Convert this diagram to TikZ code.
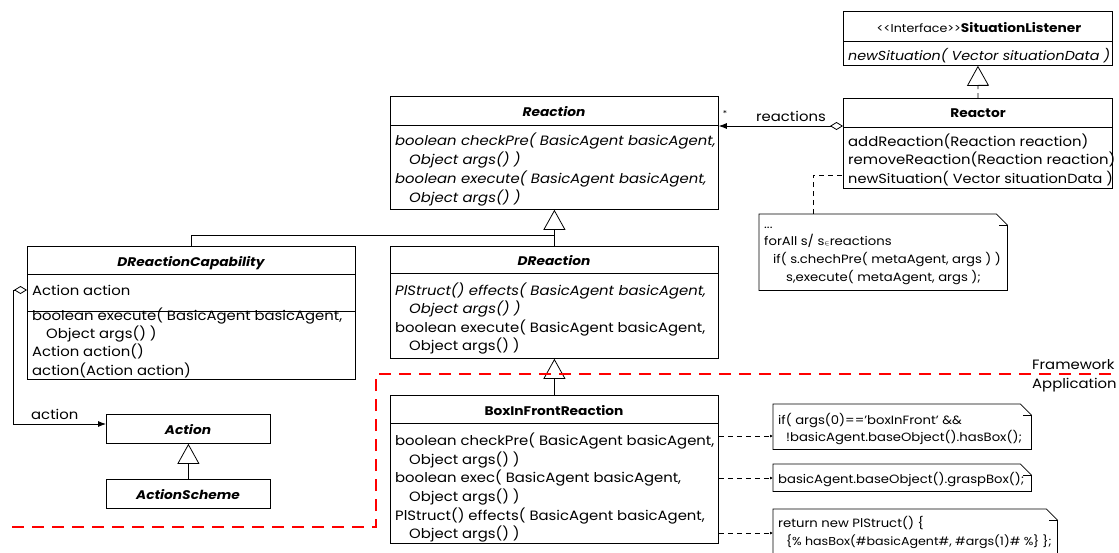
\documentclass[tikz,border=0pt]{standalone}
\usepackage{fontspec}
\setmainfont{Poppins}[FakeStretch=1.1]
\usetikzlibrary{arrows.meta}
% outline of a UML note with a folded top-right corner
\newcommand\foldnote[1]{%
  \draw[line width=0.8pt] (#1.north west) -- ([xshift=-11pt]#1.north east)
    -- ([yshift=-11pt]#1.north east) -- (#1.south east) -- (#1.south west) -- cycle;
  \draw[line width=0.8pt] ([xshift=-8pt,yshift=-11pt]#1.north east) -- ([yshift=-11pt]#1.north east);}
\begin{document}
\begin{tikzpicture}[x=1pt,y=-1pt,
  box/.style={draw, line width=0.8pt, inner sep=0pt, anchor=north west},
  area/.style={inner sep=0pt, anchor=north west},
  ln/.style={anchor=mid west, inner sep=0pt, yshift=-2.5pt, font=\fontsize{13.5}{15}\selectfont},
  iln/.style={anchor=mid west, inner sep=0pt, yshift=-2.5pt, font=\fontsize{13.5}{15}\selectfont\itshape},
  ttl/.style={anchor=mid, inner sep=0pt, yshift=-2.5pt, font=\fontsize{12.5}{15}\selectfont\bfseries},
  attl/.style={anchor=mid, inner sep=0pt, yshift=-2.5pt, font=\fontsize{12.5}{15}\selectfont\bfseries\itshape},
  nln/.style={anchor=mid west, inner sep=0pt, yshift=-2pt, font=\fontsize{12}{14}\selectfont},
  lbl/.style={inner sep=0pt, yshift=-2.5pt, font=\fontsize{13.5}{15}\selectfont},
  gen/.style={-{Triangle[open,length=20pt,width=22pt]}, line width=0.8pt},
  assoc/.style={{Diamond[open,length=13pt,width=8pt]}-{Latex[length=8pt,width=6pt]}, line width=0.8pt},
  ndash/.style={line width=0.7pt, dash pattern=on 5pt off 4pt},
  fw/.style={draw=red, line width=2.2pt, dash pattern=on 12pt off 8pt}]
\useasboundingbox (0,0) rectangle (1119,552);

% ---------- SituationListener ----------
\node[box, minimum width=269pt, minimum height=54pt] (sl) at (843,11) {};
\draw[line width=0.8pt] (sl.west |- 0,41) -- (sl.east |- 0,41);
\node[anchor=mid, inner sep=0pt, yshift=-2.5pt] (slt) at (979,27)
  {{\fontsize{11.5}{12}\selectfont <{}<Interface>{}>}{\fontsize{12.5}{15}\selectfont\bfseries SituationListener}};
\node[iln, font=\fontsize{13}{15}\selectfont\itshape] (sl1) at (848,55) {newSituation( Vector situationData )};

% ---------- Reactor ----------
\node[box, minimum width=269pt, minimum height=90pt] (reactor) at (843,98) {};
\draw[line width=0.8pt] (reactor.west |- 0,127) -- (reactor.east |- 0,127);
\node[ttl] (reactort) at (978,112) {Reactor};
\node[ln] (re1) at (848,141) {addReaction(Reaction reaction)};
\node[ln] (re2) at (848,159) {removeReaction(Reaction reaction)};
\node[ln, font=\fontsize{13.2}{15}\selectfont] (re3) at (848,178) {newSituation( Vector situationData )};

% ---------- Reaction ----------
\node[box, minimum width=328pt, minimum height=113pt] (reaction) at (390,96) {};
\draw[line width=0.8pt] (reaction.west |- 0,125) -- (reaction.east |- 0,125);
\node[attl] (reactiont) at (554,111) {Reaction};
\node[iln] (ra1) at (395,140) {boolean checkPre( BasicAgent basicAgent,};
\node[iln] (ra2) at (409,159) {Object args() )};
\node[iln] (ra3) at (395,178) {boolean execute( BasicAgent basicAgent,};
\node[iln] (ra4) at (409,197) {Object args() )};

% ---------- DReactionCapability ----------
\node[box, minimum width=328pt, minimum height=133pt] (drc) at (27,246) {};
\draw[line width=0.8pt] (drc.west |- 0,274) -- (drc.east |- 0,274);
\node[attl] (drct) at (191,261) {DReactionCapability};
\node[ln] (dc0) at (32,290) {Action action};
\node[ln] (dc1) at (32,315) {boolean execute( BasicAgent basicAgent,};
\node[ln] (dc2) at (46,333) {Object args() )};
\node[ln] (dc3) at (32,351) {Action action()};
\node[ln] (dc4) at (32,370) {action(Action action)};
\draw[line width=0.8pt] (drc.west |- 0,311) -- (drc.east |- 0,311);

% ---------- DReaction ----------
\node[box, minimum width=328pt, minimum height=112pt] (dreaction) at (390,246) {};
\draw[line width=0.8pt] (dreaction.west |- 0,273) -- (dreaction.east |- 0,273);
\node[attl] (dreactiont) at (554,260) {DReaction};
\node[iln] (dr1) at (395,290) {PlStruct() effects( BasicAgent basicAgent,};
\node[iln] (dr2) at (409,308) {Object args() )};
\node[ln] (dr3) at (395,327) {boolean execute( BasicAgent basicAgent,};
\node[ln] (dr4) at (409,345) {Object args() )};

% ---------- BoxInFrontReaction ----------
\node[box, minimum width=328pt, minimum height=148pt] (bifr) at (390,395) {};
\draw[line width=0.8pt] (bifr.west |- 0,423) -- (bifr.east |- 0,423);
\node[ttl] (bifrt) at (554,410) {BoxInFrontReaction};
\node[ln] (bf1) at (395,440) {boolean checkPre( BasicAgent basicAgent,};
\node[ln] (bf2) at (409,459) {Object args() )};
\node[ln] (bf3) at (395,477) {boolean exec( BasicAgent basicAgent,};
\node[ln] (bf4) at (409,496) {Object args() )};
\node[ln] (bf5) at (395,515) {PlStruct() effects( BasicAgent basicAgent,};
\node[ln] (bf6) at (409,533) {Object args() )};

% ---------- Action / ActionScheme ----------
\node[box, minimum width=164pt, minimum height=29pt] (action) at (106,414) {};
\node[attl] (actiont) at (188,429) {Action};
\node[box, minimum width=164pt, minimum height=29pt] (ascheme) at (106,479) {};
\node[attl] (aschemet) at (188,494) {ActionScheme};

% ---------- notes ----------
\node[area, minimum width=248pt, minimum height=76pt] (n1) at (759,214) {};
\foldnote{n1}
\node[nln] (n1a) at (764,224) {...};
\node[nln] (n1b) at (764,241) {forAll s/ s{\scriptsize$\in$}reactions};
\node[nln] (n1c) at (773,259) {if( s.chechPre( metaAgent, args ) )};
\node[nln] (n1d) at (786,277) {s,execute( metaAgent, args );};

\node[area, minimum width=258pt, minimum height=45pt] (n2) at (773,404) {};
\foldnote{n2}
\node[nln] (n2a) at (778,420) {if( args(0)=='boxInFront' \&\&};
\node[nln] (n2b) at (786,437) {!basicAgent.baseObject().hasBox();};

\node[area, minimum width=258pt, minimum height=27pt] (n3) at (773,464) {};
\foldnote{n3}
\node[nln] (n3a) at (778,479) {basicAgent.baseObject().graspBox();};

\node[area, minimum width=284pt, minimum height=50pt] (n4) at (773,509) {};
\foldnote{n4}
\node[nln] (n4a) at (778,523) {return new PlStruct() \{};
\node[nln, font=\fontsize{11.5}{14}\selectfont] (n4b) at (786,541) {\{\% hasBox(\#basicAgent\#, \#args(1)\# \%\} \};};

% ---------- connectors ----------
% generalisations
\coordinate (join) at (554,235);
\draw[gen] (dreaction.north) -- (reaction.south);
\draw[line width=0.8pt] (drc.north) |- (join);
\draw[gen] (bifr.north) -- (dreaction.south);
\draw[gen] (ascheme.north) -- (action.south);
% realisation of the listener interface
\coordinate (slbase) at (978,85);
\draw[line width=0.8pt, dash pattern=on 5pt off 4pt] (reactor.north) -- (slbase);
\draw[line width=0.8pt, -{Triangle[open,length=20pt,width=22pt]}] (slbase) -- (sl.south);
% aggregations
\draw[assoc] (reactor.west |- 0,126) -- (reaction.east |- 0,126);
\node[lbl, anchor=mid] (lreact) at (791,116) {reactions};
\node[anchor=mid, inner sep=0pt, font=\fontsize{8}{9}\selectfont] (lmany) at (725,114) {*};
\coordinate (aggbend) at (13,290);
\draw[assoc] (drc.west |- 0,290) -- (aggbend) |- (action.west |- 0,424);
\node[lbl, anchor=mid west] (laction) at (31,414) {action};
% note attachments
\coordinate (n1top) at (813,214);
\draw[ndash] (n1top) |- (reactor.west |- 0,175);
\draw[ndash, -{Latex[length=3pt,width=3pt]}] (bifr.east |- 0,436) -- (n2.west |- 0,436);
\draw[ndash, -{Latex[length=3pt,width=3pt]}] (bifr.east |- 0,478) -- (n3.west |- 0,478);
\draw[ndash, -{Latex[length=3pt,width=3pt]}] (bifr.east |- 0,533) -- (n4.west |- 0,533);

% ---------- framework / application boundary ----------
\draw[fw] (12,527) -- (376,527) -- (376,374) -- (1119,374);
\node[lbl, anchor=mid west] (lfw) at (1032,364) {Framework};
\node[lbl, anchor=mid west] (lapp) at (1032,383) {Application};
\end{tikzpicture}
\end{document}
